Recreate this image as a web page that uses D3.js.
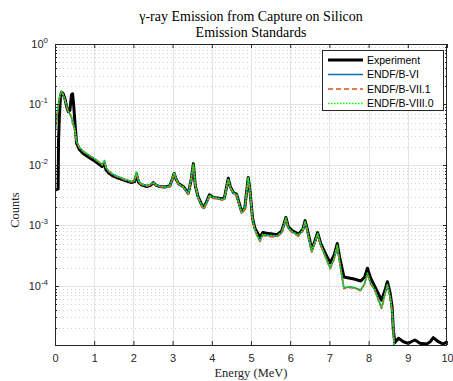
<!DOCTYPE html>
<html>
<head>
<meta charset="utf-8">
<script src="https://cdn.jsdelivr.net/npm/d3@7"></script>
<style>
  html, body { margin: 0; padding: 0; background: #fff; }
  svg { display: block; }
</style>
</head>
<body>
<svg id="chart" width="453" height="381"></svg>
<script>
// Photon energy grid (MeV)
const energy = [
  0, 0.04, 0.08, 0.09, 0.11, 0.14, 0.17, 0.21, 0.26, 0.30,
  0.34, 0.38, 0.42, 0.45, 0.48, 0.51, 0.55, 0.62, 0.72, 0.85,
  0.98, 1.1, 1.2, 1.26, 1.30, 1.36, 1.47, 1.57, 1.7, 1.83,
  1.95, 2.03, 2.08, 2.13, 2.2, 2.34, 2.44, 2.51, 2.58, 2.66,
  2.8, 2.93, 3.0, 3.04, 3.09, 3.15, 3.27, 3.40, 3.47, 3.53,
  3.58, 3.65, 3.74, 3.80, 3.87, 3.94, 4.04, 4.15, 4.25, 4.32,
  4.42, 4.47, 4.55, 4.63, 4.70, 4.76, 4.84, 4.93, 4.97, 5.04,
  5.10, 5.18, 5.23, 5.30, 5.40, 5.50, 5.66, 5.78, 5.84, 5.89,
  5.95, 6.05, 6.21, 6.32, 6.38, 6.43, 6.55, 6.63, 6.70, 6.78,
  6.90, 7.02, 7.12, 7.20, 7.26, 7.37, 7.53, 7.66, 7.80, 7.90,
  7.97, 8.05, 8.16, 8.33, 8.42, 8.48, 8.55, 8.60, 8.63, 8.67,
  8.76, 8.89, 9.01, 9.10, 9.18, 9.31, 9.48, 9.58, 9.65, 9.78,
  9.90, 10.0
];

// Measured spectrum
const experiment = [
  3.9e-3, 3.9e-3, 4.0e-3, 2.4e-2, 6.0e-2, 1.35e-1, 1.6e-1, 1.5e-1, 1.2e-1, 9.0e-2,
  7.6e-2, 8.0e-2, 1.45e-1, 1.5e-1, 9.0e-2, 4.9e-2, 2.3e-2, 1.8e-2, 1.55e-2, 1.35e-2,
  1.2e-2, 1.05e-2, 9.4e-3, 1.05e-2, 8.3e-3, 7.5e-3, 6.6e-3, 6.2e-3, 5.8e-3, 5.4e-3,
  5.1e-3, 5.3e-3, 7.0e-3, 5.2e-3, 4.7e-3, 4.4e-3, 4.6e-3, 5.1e-3, 4.6e-3, 4.4e-3,
  4.3e-3, 4.5e-3, 6.0e-3, 7.2e-3, 5.8e-3, 4.9e-3, 4.4e-3, 3.4e-3, 5.5e-3, 1.05e-2,
  4.5e-3, 3.0e-3, 2.2e-3, 2.0e-3, 2.5e-3, 3.2e-3, 2.9e-3, 2.85e-3, 2.75e-3, 2.8e-3,
  6.0e-3, 4.4e-3, 3.5e-3, 3.3e-3, 2.3e-3, 1.7e-3, 1.9e-3, 6.2e-3, 4.0e-3, 1.3e-3,
  9.0e-4, 7.2e-4, 6.3e-4, 7.6e-4, 7.4e-4, 7.3e-4, 7.0e-4, 8.0e-4, 1.05e-3, 1.35e-3,
  9.5e-4, 8.2e-4, 7.2e-4, 8.5e-4, 1.2e-3, 9.0e-4, 4.0e-4, 5.5e-4, 7.6e-4, 5.0e-4,
  3.4e-4, 2.4e-4, 3.2e-4, 5.0e-4, 3.0e-4, 1.4e-4, 1.33e-4, 1.28e-4, 1.2e-4, 1.4e-4,
  1.95e-4, 1.35e-4, 9.7e-5, 5.8e-5, 8.5e-5, 1.17e-4, 7.5e-5, 4.5e-5, 1.9e-5, 1.15e-5,
  1.36e-5, 1.19e-5, 1.12e-5, 1.2e-5, 1.27e-5, 1.12e-5, 1.09e-5, 1.2e-5, 1.39e-5, 1.19e-5,
  1.09e-5, 1.19e-5
];

// Simulated spectra (end at the 8.67 MeV edge)
const endfB6 = [
  3.6e-2, 5.6e-2, 9.0e-2, 1.02e-1, 1.25e-1, 1.55e-1, 1.62e-1, 1.45e-1, 1.15e-1, 9.2e-2,
  7.6e-2, 7.0e-2, 6.2e-2, 5.0e-2, 4.4e-2, 3.6e-2, 2.4e-2, 1.95e-2, 1.68e-2, 1.47e-2,
  1.3e-2, 1.14e-2, 1.01e-2, 1.18e-2, 9.0e-3, 8.0e-3, 7.0e-3, 6.5e-3, 6.0e-3, 5.6e-3,
  5.3e-3, 5.5e-3, 7.5e-3, 5.4e-3, 4.8e-3, 4.5e-3, 4.7e-3, 5.1e-3, 4.6e-3, 4.4e-3,
  4.25e-3, 4.4e-3, 6.0e-3, 7.3e-3, 5.8e-3, 4.8e-3, 4.3e-3, 3.3e-3, 5.6e-3, 1.0e-2,
  4.6e-3, 2.9e-3, 2.1e-3, 1.9e-3, 2.4e-3, 3.1e-3, 2.85e-3, 2.8e-3, 2.65e-3, 2.75e-3,
  5.8e-3, 4.3e-3, 3.4e-3, 3.2e-3, 2.2e-3, 1.6e-3, 1.85e-3, 6.0e-3, 3.9e-3, 1.25e-3,
  8.4e-4, 6.4e-4, 5.6e-4, 7.0e-4, 6.8e-4, 6.7e-4, 6.6e-4, 7.6e-4, 1.0e-3, 1.3e-3,
  9.0e-4, 7.8e-4, 6.8e-4, 8.2e-4, 1.15e-3, 8.6e-4, 3.7e-4, 5.2e-4, 7.2e-4, 4.7e-4,
  3.0e-4, 1.95e-4, 2.8e-4, 4.6e-4, 2.5e-4, 9.2e-5, 9.6e-5, 9.2e-5, 8.5e-5, 1.1e-4,
  1.6e-4, 1.1e-4, 8.5e-5, 4.3e-5, 7.5e-5, 1.03e-4, 6.5e-5, 3.8e-5, 2.0e-5, 5e-6
];
const endfB71 = [
  3.5e-2, 5.5e-2, 8.9e-2, 1.0e-1, 1.24e-1, 1.54e-1, 1.61e-1, 1.44e-1, 1.14e-1, 9.1e-2,
  7.5e-2, 6.9e-2, 6.1e-2, 4.9e-2, 4.3e-2, 3.5e-2, 2.4e-2, 1.94e-2, 1.67e-2, 1.46e-2,
  1.29e-2, 1.13e-2, 1.0e-2, 1.17e-2, 8.9e-3, 7.9e-3, 6.9e-3, 6.4e-3, 5.9e-3, 5.5e-3,
  5.2e-3, 5.4e-3, 7.4e-3, 5.3e-3, 4.75e-3, 4.45e-3, 4.65e-3, 5.05e-3, 4.55e-3, 4.35e-3,
  4.2e-3, 4.35e-3, 5.9e-3, 7.2e-3, 5.7e-3, 4.75e-3, 4.25e-3, 3.25e-3, 5.5e-3, 9.9e-3,
  4.5e-3, 2.85e-3, 2.05e-3, 1.85e-3, 2.35e-3, 3.05e-3, 2.8e-3, 2.75e-3, 2.6e-3, 2.7e-3,
  5.7e-3, 4.2e-3, 3.35e-3, 3.15e-3, 2.15e-3, 1.55e-3, 1.8e-3, 5.9e-3, 3.8e-3, 1.22e-3,
  8.2e-4, 6.2e-4, 5.4e-4, 6.8e-4, 6.6e-4, 6.5e-4, 6.4e-4, 7.4e-4, 9.8e-4, 1.27e-3,
  8.8e-4, 7.6e-4, 6.6e-4, 8.0e-4, 1.12e-3, 8.4e-4, 3.6e-4, 5.1e-4, 7.0e-4, 4.6e-4,
  2.95e-4, 1.9e-4, 2.75e-4, 4.5e-4, 2.45e-4, 9.0e-5, 9.4e-5, 9.0e-5, 8.3e-5, 1.08e-4,
  1.57e-4, 1.08e-4, 8.3e-5, 4.2e-5, 7.3e-5, 1.01e-4, 6.4e-5, 3.7e-5, 1.9e-5, 5e-6
];
const endfB80 = [
  3.7e-2, 5.7e-2, 9.1e-2, 1.03e-1, 1.26e-1, 1.56e-1, 1.62e-1, 1.46e-1, 1.16e-1, 9.3e-2,
  7.7e-2, 7.1e-2, 6.3e-2, 5.1e-2, 4.5e-2, 3.7e-2, 2.45e-2, 1.96e-2, 1.69e-2, 1.48e-2,
  1.31e-2, 1.15e-2, 1.02e-2, 1.19e-2, 9.1e-3, 8.1e-3, 7.1e-3, 6.6e-3, 6.1e-3, 5.65e-3,
  5.35e-3, 5.55e-3, 7.6e-3, 5.45e-3, 4.85e-3, 4.55e-3, 4.75e-3, 5.15e-3, 4.65e-3, 4.45e-3,
  4.3e-3, 4.45e-3, 6.1e-3, 7.4e-3, 5.9e-3, 4.85e-3, 4.35e-3, 3.35e-3, 5.7e-3, 1.02e-2,
  4.7e-3, 2.95e-3, 2.15e-3, 1.95e-3, 2.45e-3, 3.15e-3, 2.9e-3, 2.85e-3, 2.7e-3, 2.8e-3,
  5.9e-3, 4.35e-3, 3.45e-3, 3.25e-3, 2.25e-3, 1.65e-3, 1.9e-3, 6.1e-3, 3.95e-3, 1.28e-3,
  8.6e-4, 6.5e-4, 5.7e-4, 7.1e-4, 6.9e-4, 6.8e-4, 6.7e-4, 7.7e-4, 1.02e-3, 1.32e-3,
  9.1e-4, 7.9e-4, 6.9e-4, 8.3e-4, 1.17e-3, 8.7e-4, 3.8e-4, 5.3e-4, 7.3e-4, 4.8e-4,
  3.05e-4, 2.0e-4, 2.85e-4, 4.7e-4, 2.55e-4, 9.3e-5, 9.7e-5, 9.3e-5, 8.6e-5, 1.11e-4,
  1.62e-4, 1.12e-4, 8.6e-5, 4.4e-5, 7.6e-5, 1.04e-4, 6.6e-5, 3.9e-5, 2.0e-5, 5e-6
];

const seriesNames = ["Experiment", "ENDF/B-VI", "ENDF/B-VII.1", "ENDF/B-VIII.0"];
const xTickValues = [0, 1, 2, 3, 4, 5, 6, 7, 8, 9, 10];
const yTickExponents = [0, -1, -2, -3, -4];
const titleLines = ["γ-ray Emission from Capture on Silicon", "Emission Standards"];
const xLabel = "Energy (MeV)";
const yLabel = "Counts";

const W = 453, H = 381;
const plot = { left: 55, right: 447, top: 44, bottom: 345 };
const axisColor = "#262626";
const sans = "Liberation Sans, Arial, sans-serif";
const serif = "Liberation Serif, serif";
const svg = d3.select("#chart");

const x = d3.scaleLinear().domain([0, 10]).range([plot.left, plot.right]);
const y = d3.scaleLog().domain([1.05e-5, 1]).range([plot.bottom, plot.top]);

svg.append("rect").attr("width", W).attr("height", H).attr("fill", "#fff");

// grid: minor (dotted) then major (solid)
const minorVals = [];
for (let e = -5; e < 0; e++) {
  for (let m = 2; m <= 9; m++) {
    const v = m * Math.pow(10, e);
    if (v > y.domain()[0] && v < 1) minorVals.push(v);
  }
}
const grid = svg.append("g");
grid.selectAll("line.ymin").data(minorVals).join("line")
  .attr("x1", plot.left).attr("x2", plot.right)
  .attr("y1", d => Math.round(y(d)) + 0.5).attr("y2", d => Math.round(y(d)) + 0.5)
  .attr("stroke", "#d2d2d2").attr("stroke-width", 1).attr("stroke-dasharray", "1,3");
grid.selectAll("line.xmaj").data(xTickValues.slice(1, -1)).join("line")
  .attr("x1", d => Math.round(x(d)) + 0.5).attr("x2", d => Math.round(x(d)) + 0.5)
  .attr("y1", plot.top).attr("y2", plot.bottom)
  .attr("stroke", "#e3e3e3").attr("stroke-width", 1);
grid.selectAll("line.ymaj").data(yTickExponents.slice(1)).join("line")
  .attr("x1", plot.left).attr("x2", plot.right)
  .attr("y1", d => Math.round(y(Math.pow(10, d))) + 0.5).attr("y2", d => Math.round(y(Math.pow(10, d))) + 0.5)
  .attr("stroke", "#e3e3e3").attr("stroke-width", 1);

// series
svg.append("clipPath").attr("id", "clip").append("rect")
  .attr("x", plot.left).attr("y", plot.top)
  .attr("width", plot.right - plot.left).attr("height", plot.bottom - plot.top);

const line = d3.line().x(d => x(d[0])).y(d => y(d[1]));
const pairs = vals => vals.map((v, i) => [energy[i], v]);

const styles = [
  { data: experiment, color: "#000000", width: 3, dash: null },
  { data: endfB6, color: "#0072BD", width: 1.6, dash: null },
  { data: endfB71, color: "#D95319", width: 1.6, dash: "5,3" },
  { data: endfB80, color: "#00FF00", width: 1.6, dash: "1.5,1.5" }
];
const lines = svg.append("g").attr("clip-path", "url(#clip)");
styles.forEach(s => {
  lines.append("path").attr("d", line(pairs(s.data)))
    .attr("fill", "none").attr("stroke", s.color).attr("stroke-width", s.width)
    .attr("stroke-linejoin", "round")
    .attr("stroke-dasharray", s.dash);
});

// axes box with inward ticks on all sides
const bottomAxis = d3.axisBottom(x).tickValues(xTickValues).tickSizeInner(-4).tickSizeOuter(0).tickPadding(9);
const topAxis = d3.axisTop(x).tickValues(xTickValues).tickSizeInner(-4).tickSizeOuter(0).tickFormat("");
const gb = svg.append("g").attr("transform", `translate(0,${plot.bottom})`).call(bottomAxis);
const gt = svg.append("g").attr("transform", `translate(0,${plot.top})`).call(topAxis);
[gb, gt].forEach(g => {
  g.select(".domain").remove();
  g.selectAll(".tick line").attr("stroke", axisColor);
});
gb.selectAll(".tick text").attr("font-family", sans)
  .attr("font-size", 11).attr("fill", axisColor);

const yMajor = yTickExponents.map(e => Math.pow(10, e));
const yAll = yMajor.concat(minorVals);
const ga = svg.append("g");
yAll.forEach(v => {
  const len = yMajor.includes(v) ? 4 : 2;
  const yy = Math.round(y(v)) + 0.5;
  ga.append("line").attr("x1", plot.left).attr("x2", plot.left + len).attr("y1", yy).attr("y2", yy).attr("stroke", axisColor);
  ga.append("line").attr("x1", plot.right - len).attr("x2", plot.right).attr("y1", yy).attr("y2", yy).attr("stroke", axisColor);
});
yTickExponents.forEach(e => {
  const t = ga.append("text").attr("x", 48).attr("y", y(Math.pow(10, e)) + 4)
    .attr("font-family", sans).attr("font-size", 11)
    .attr("fill", axisColor).attr("text-anchor", "end");
  t.append("tspan").text("10");
  t.append("tspan").attr("font-size", 8).attr("dy", -5).text(String(e));
});

svg.append("rect").attr("x", plot.left + 0.5).attr("y", plot.top + 0.5)
  .attr("width", plot.right - plot.left - 1).attr("height", plot.bottom - plot.top)
  .attr("fill", "none").attr("stroke", axisColor).attr("stroke-width", 1);

// titles and axis labels
svg.append("text").attr("x", 251).attr("y", 21).attr("text-anchor", "middle")
  .attr("font-family", serif).attr("font-size", 14).attr("fill", "#000")
  .text(titleLines[0]);
svg.append("text").attr("x", 251).attr("y", 37).attr("text-anchor", "middle")
  .attr("font-family", serif).attr("font-size", 14).attr("fill", "#000")
  .text(titleLines[1]);
svg.append("text").attr("x", 251).attr("y", 377).attr("text-anchor", "middle")
  .attr("font-family", serif).attr("font-size", 12.5).attr("fill", axisColor)
  .text(xLabel);
svg.append("text").attr("transform", "translate(19,210) rotate(-90)")
  .attr("text-anchor", "middle")
  .attr("font-family", serif).attr("font-size", 12.5).attr("fill", axisColor)
  .text(yLabel);

// legend
const lg = svg.append("g").attr("transform", "translate(322,50)");
lg.append("rect").attr("x", 0.5).attr("y", 0.5).attr("width", 121).attr("height", 60)
  .attr("fill", "#fff").attr("stroke", axisColor).attr("stroke-width", 1);
styles.forEach((s, i) => {
  const yy = 10 + i * 14.5;
  lg.append("line").attr("x1", 6).attr("x2", 41).attr("y1", yy).attr("y2", yy)
    .attr("stroke", s.color).attr("stroke-width", s.width)
    .attr("stroke-dasharray", s.dash);
  lg.append("text").attr("x", 45).attr("y", yy + 3.5)
    .attr("font-family", sans).attr("font-size", 10.5)
    .attr("fill", "#000").text(seriesNames[i]);
});
</script>
</body>
</html>
